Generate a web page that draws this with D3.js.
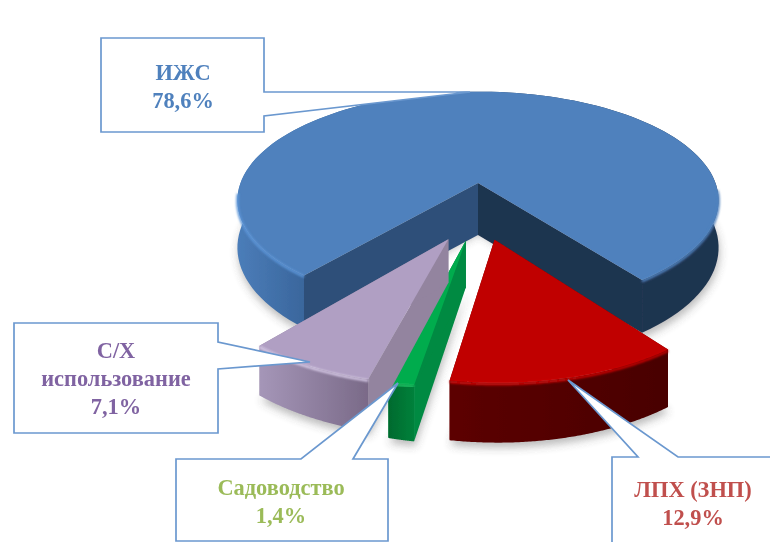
<!DOCTYPE html>
<html lang="ru">
<head>
<meta charset="UTF-8">
<title>Pie 3D</title>
<script src="https://d3js.org/d3.v7.min.js"></script>
<style>
  html, body { margin: 0; padding: 0; background: #fff; }
  svg { display: block; }
  text { font-family: "Liberation Serif", serif; font-weight: bold; font-size: 22.4px; text-anchor: middle; }
</style>
</head>
<body>
<svg width="770" height="542"></svg>
<script>
// data, clockwise from the left cut of the big slice
const categories = ["ИЖС", "ЛПХ (ЗНП)", "Садоводство", "С/Х использование"];
const shares = [78.6, 12.9, 1.4, 7.1];
const shareLabels = ["78,6%", "12,9%", "1,4%", "7,1%"];
const labelLines = [["ИЖС"], ["ЛПХ (ЗНП)"], ["Садоводство"], ["С/Х", "использование"]];

// look of each slice
const topColors = ["#4f81bd", "#c00000", "#00ac4e", "#b09fc3"];
const rimColors = ["#5c95d8", "#d80808", "#20c868", "#d8cbe8"];
const rimFades = ["#4f81bd", "#c80404", "#20c868", "#d8cbe8"];
const cutColors = [["#2f5079", "#1f3450"], ["#7a0000", "#7a0000"], ["#008a42", "#008a42"], ["#93849f", "#93849f"]];
const wallStops = [
  [[0, "#4b7db9"], [0.14, "#3a669c"], [0.45, "#2a4a75"], [0.8, "#1f3450"], [1, "#1f3450"]],
  [[0, "#5c0000"], [1, "#490000"]],
  [[0, "#006a2e"], [1, "#00813b"]],
  [[0, "#a596b8"], [1, "#7a6a88"]]
];
const textColors = ["#4f81bd", "#c0504d", "#9bbb59", "#8064a2"];

// explosion of each slice in disc units, its radius, side height and how far the apex edge drops
const explode = [[0, 0], [0.064, 0.493], [-0.047, 0.5], [-0.115, 0.489]];
const radii = [1, 0.955, 0.975, 0.97];
const depths = [46, 46, 43, 40];
const apexDepths = [52, 46, 43, 40];

// callouts: box, wedge base on the box and tip
const callouts = [
  { box: [101, 38, 264, 132], base: [[264, 92], [264, 116]], tip: [470, 92], text: [183, 80] },
  { box: [612, 457, 800, 600], base: [[638, 457], [678, 457]], tip: [568, 380], text: [693, 497] },
  { box: [176, 459, 388, 541], base: [[301, 459], [353, 459]], tip: [398, 383], text: [281, 495] },
  { box: [14, 323, 218, 433], base: [[218, 342], [218, 369]], tip: [310, 362], text: [116, 358] }
];

const cx = 478, cy = 183, rx = 237.5, ry = 106, persp = 0.16;

// disc coords to screen, z is the distance down the side of the pie
function project(u, v, z) {
  const s = 1 / (1 - persp * v);
  return [cx + rx * u * s, cy + ry * v * s + z * s];
}

const svg = d3.select("svg");
const defs = svg.append("defs");
defs.append("filter").attr("id", "soft").attr("x", "-5%").attr("y", "-5%").attr("width", "110%").attr("height", "110%")
  .append("feGaussianBlur").attr("stdDeviation", 0.55);
defs.append("filter").attr("id", "shade").attr("x", "-10%").attr("y", "-10%").attr("width", "120%").attr("height", "120%")
  .append("feGaussianBlur").attr("stdDeviation", 4);
defs.append("filter").attr("id", "glow").attr("x", "-10%").attr("y", "-10%").attr("width", "120%").attr("height", "120%")
  .append("feGaussianBlur").attr("stdDeviation", 1.2);

const pie = d3.pie().sort(null).value(d => d)
  .startAngle(-140 * Math.PI / 180).endAngle(220 * Math.PI / 180);
const arcs = pie(shares);
const line = d3.line();

// sampled outer arc of a slice in disc coords
function outerArc(a, i) {
  const steps = d3.range(0, 121).map(k => a.startAngle + (a.endAngle - a.startAngle) * k / 120);
  return steps.map(t => ({
    u: explode[i][0] + radii[i] * Math.sin(t),
    v: explode[i][1] - radii[i] * Math.cos(t)
  }));
}

const pies = svg.append("g").attr("filter", "url(#soft)");

// floor shadow goes below everything
const shadows = pies.append("g").attr("filter", "url(#shade)").attr("opacity", 0.4).attr("transform", "translate(1,5)");
arcs.forEach((a, i) => {
  const rim = outerArc(a, i);
  const pts = [project(explode[i][0], explode[i][1], depths[i])].concat(rim.map(p => project(p.u, p.v, depths[i])));
  shadows.append("path").attr("d", line(pts) + "Z").attr("fill", "#555");
});

arcs.forEach((a, i) => {
  const rim = outerArc(a, i);
  const [eu, ev] = explode[i];
  const depth = depths[i];
  const xs = d3.extent(rim, p => project(p.u, p.v, 0)[0]);
  const g = pies.append("g");

  const grad = defs.append("linearGradient").attr("id", "wall" + i)
    .attr("gradientUnits", "userSpaceOnUse")
    .attr("x1", xs[0]).attr("x2", xs[1]).attr("y1", 0).attr("y2", 0);
  wallStops[i].forEach(s => grad.append("stop").attr("offset", s[0]).attr("stop-color", s[1]));

  const rimGrad = defs.append("linearGradient").attr("id", "rim" + i)
    .attr("gradientUnits", "userSpaceOnUse")
    .attr("x1", xs[0]).attr("x2", xs[1]).attr("y1", 0).attr("y2", 0);
  rimGrad.append("stop").attr("offset", 0).attr("stop-color", rimColors[i]);
  rimGrad.append("stop").attr("offset", 0.4).attr("stop-color", rimColors[i]);
  rimGrad.append("stop").attr("offset", 1).attr("stop-color", rimFades[i]);

  // the two cut faces, what is not visible gets covered by wall and top
  [rim[0], rim[rim.length - 1]].forEach((end, k) => {
    const face = [project(eu, ev, 0), project(end.u, end.v, 0), project(end.u, end.v, depth), project(eu, ev, apexDepths[i])];
    g.append("path").attr("d", line(face) + "Z").attr("fill", cutColors[i][k]);
  });

  // outer wall, the back part ends up hidden under the top face
  const wall = rim.map(p => project(p.u, p.v, 0))
    .concat(rim.slice().reverse().map(p => project(p.u, p.v, depth)));
  g.append("path").attr("d", line(wall) + "Z").attr("fill", "url(#wall" + i + ")");

  // top face
  const top = [project(eu, ev, 0)].concat(rim.map(p => project(p.u, p.v, 0)));
  g.append("path").attr("d", line(top) + "Z").attr("fill", topColors[i]);

  // bevel on the near rim
  const bevel = d3.line().defined(p => p.v > 0.05).x(p => project(p.u, p.v, 1)[0]).y(p => project(p.u, p.v, 1)[1]);
  g.append("path").attr("d", bevel(rim)).attr("fill", "none")
    .attr("stroke", "url(#rim" + i + ")").attr("stroke-width", 2.5).attr("filter", "url(#glow)");
});

// callouts on top of the pie
const notes = svg.append("g").attr("filter", "url(#soft)");
callouts.forEach((c, i) => {
  const [x0, y0, x1, y1] = c.box;
  const b = c.base;
  const outline = [[x0, y0]];
  if (b[0][1] === y0) outline.push(b[0], c.tip, b[1]);
  outline.push([x1, y0]);
  if (b[0][0] === x1) outline.push(b[0], c.tip, b[1]);
  outline.push([x1, y1], [x0, y1]);
  notes.append("path").attr("d", line(outline) + "Z")
    .attr("fill", "#fff").attr("stroke", "#6b98cf").attr("stroke-width", 1.7);

  const rows = labelLines[i].concat([shareLabels[i]]);
  const t = notes.append("text").attr("fill", textColors[i]);
  rows.forEach((row, k) => {
    t.append("tspan").attr("x", c.text[0]).attr("y", c.text[1] + k * 28).text(row);
  });
});
</script>
</body>
</html>
